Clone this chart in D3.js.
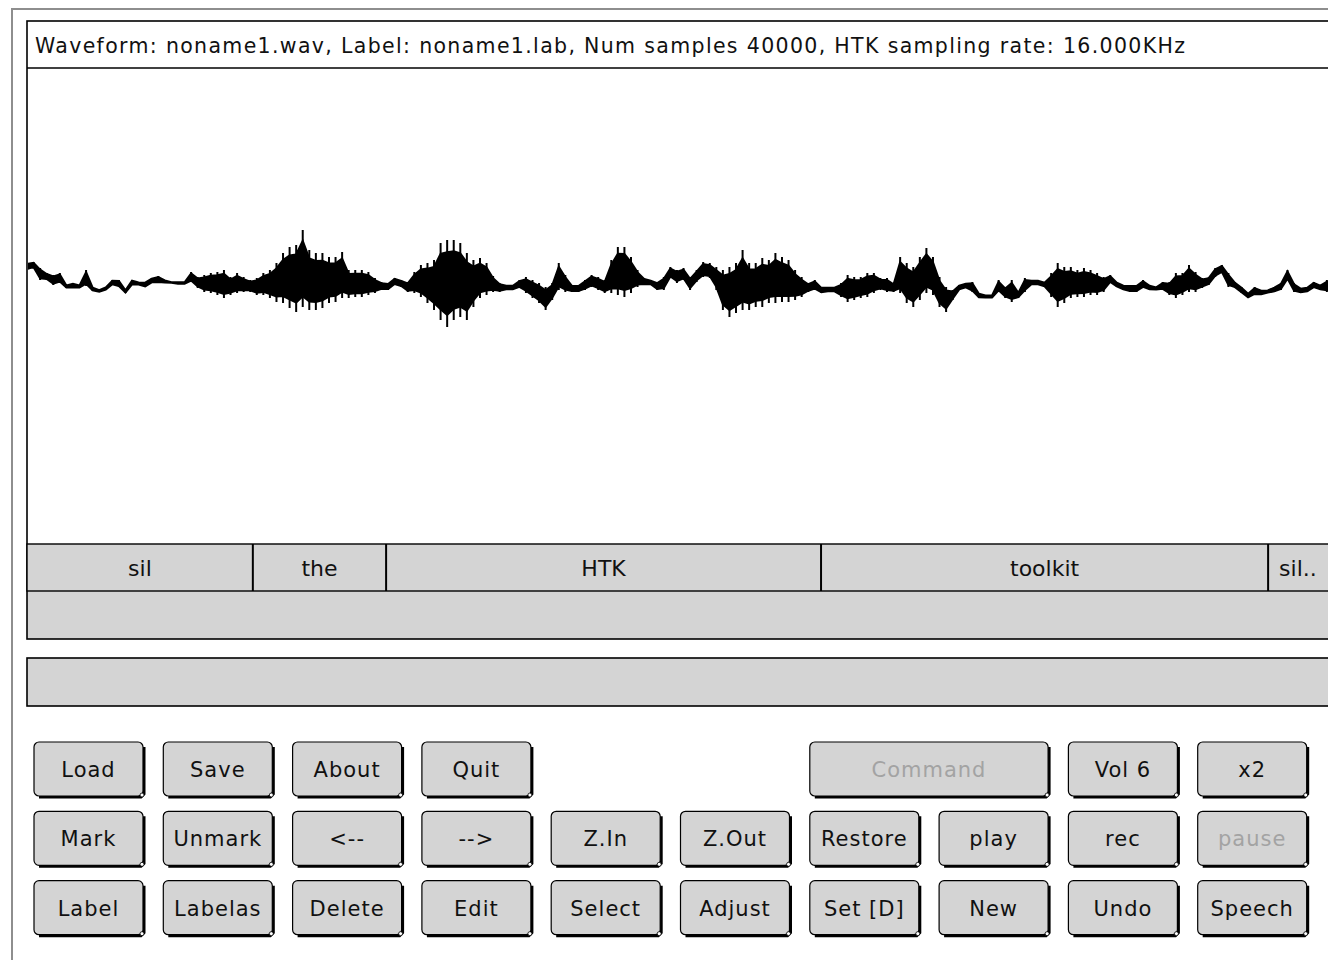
<!DOCTYPE html>
<html>
<head>
<meta charset="utf-8">
<script src="https://cdn.jsdelivr.net/npm/d3@7"></script>
<style>
  body { margin: 0; background: #fff; overflow: hidden; }
  text { font-family: "DejaVu Sans", sans-serif; }
</style>
</head>
<body>
<div id="hslab"></div>
<script>
const titleText = "Waveform: noname1.wav, Label: noname1.lab, Num samples 40000, HTK sampling rate: 16.000KHz";
const numSamples = 40000;
const sampleStep = 200;

// envelope of the waveform, one max/min pair every 200 samples
const waveHi = [
  43,44,38,33,31,33,21,23,21,36, 19,16,19,26,26,16,26,24,24,28,
  30,26,24,24,24,34,29,31,33,34, 36,29,33,29,26,28,33,36,43,53,
  59,61,76,56,53,53,49,49,54,36, 36,36,34,28,24,23,28,26,24,34,
  41,43,46,63,66,66,63,53,46,48, 43,30,23,21,21,26,29,26,23,19,
  23,43,31,21,21,26,31,29,26,46, 59,59,49,36,28,26,24,29,39,36,
  38,29,36,44,43,39,36,39,43,56, 43,43,48,46,53,49,46,36,29,23,
  26,19,19,19,23,31,29,29,33,33, 28,28,23,49,43,39,49,58,49,29,
  19,16,21,23,24,13,11,11,26,19, 26,14,28,26,26,24,33,43,39,39,
  36,38,36,33,29,31,24,21,21,21, 26,21,19,24,24,33,33,41,34,28,
  29,38,41,33,24,19,13,19,16,16, 19,23,36,23,18,19,24,21,26,26
];
const waveLo = [
  36,38,26,26,21,23,18,18,18,20, 15,14,16,21,19,13,21,21,19,23,
  23,23,23,22,22,24,18,14,13,11,  8,11,13,14,14,11,11,8,4,3,
  -2,-6,-1,-4,-4,-2,3,4,8,8,      9,9,11,13,16,16,21,19,14,13,
  9,3,-4,-14,-21,-14,-11,-14,-1,8, 11,14,14,16,16,18,13,8,3,-4,
  6,16,14,14,14,16,19,16,13,13,   11,9,13,19,21,21,16,16,28,23,
  26,16,24,29,28,16,-4,-11,-7,-4, -4,-1,-1,3,3,4,4,6,9,14,
  16,13,14,14,9,4,6,8,9,13,       16,14,14,13,3,-1,6,13,11,-1,
  -6,6,16,18,14,8,8,8,14,8,       4,8,14,21,21,19,9,-1,3,8,
  9,9,11,11,14,23,19,16,14,14,    18,16,16,16,11,8,11,14,14,18,
  21,29,33,19,18,13,8,11,11,13,   14,16,26,14,13,14,18,16,14,16
];

const labelNames  = ["sil", "the", "HTK", "toolkit", "sil.."];
const labelStarts = [0, 6880, 10940, 24190, 37810];
const labelEnds   = [6880, 10940, 24190, 37810, 40000];

const buttonNames = [
  "Load", "Save", "About", "Quit", "Command", "Vol 6", "x2",
  "Mark", "Unmark", "<--", "-->", "Z.In", "Z.Out", "Restore", "play", "rec", "pause",
  "Label", "Labelas", "Delete", "Edit", "Select", "Adjust", "Set [D]", "New", "Undo", "Speech"
];
const buttonRows   = [0,0,0,0,0,0,0, 1,1,1,1,1,1,1,1,1,1, 2,2,2,2,2,2,2,2,2,2];
const buttonCols   = [0,1,2,3,6,8,9, 0,1,2,3,4,5,6,7,8,9, 0,1,2,3,4,5,6,7,8,9];
const buttonSpans  = [1,1,1,1,2,1,1, 1,1,1,1,1,1,1,1,1,1, 1,1,1,1,1,1,1,1,1,1];
const buttonGreyed = ["Command", "pause"];

const W = 1328, H = 960;
const svg = d3.select("#hslab").append("svg")
    .attr("width", W)
    .attr("height", H);

const grey = "#d4d4d4";

// outer window frame
svg.append("path")
    .attr("d", `M12,${H + 5} V9 H${W + 5}`)
    .attr("fill", "none")
    .attr("stroke", "#8e8e8e")
    .attr("stroke-width", 2);

// waveform panel
const panel = { x: 27, y: 21, bottom: 639, titleBottom: 68, waveBottom: 544, labBottom: 591 };

svg.append("rect")
    .attr("x", panel.x)
    .attr("y", panel.labBottom)
    .attr("width", W)
    .attr("height", panel.bottom - panel.labBottom)
    .attr("fill", grey);

svg.append("rect")
    .attr("x", panel.x)
    .attr("y", panel.y)
    .attr("width", W)
    .attr("height", panel.bottom - panel.y)
    .attr("fill", "none")
    .attr("stroke", "#000")
    .attr("stroke-width", 1.6);

svg.append("line")
    .attr("x1", panel.x).attr("x2", W + 5)
    .attr("y1", panel.titleBottom).attr("y2", panel.titleBottom)
    .attr("stroke", "#000")
    .attr("stroke-width", 1.6);

svg.append("text")
    .attr("x", 35)
    .attr("y", 53)
    .attr("font-size", "20.5px")
    .attr("fill", "#111")
    .attr("textLength", 1150)
    .attr("lengthAdjust", "spacing")
    .text(titleText);

// scales
const x = d3.scaleLinear()
    .domain([0, numSamples])
    .range([panel.x, 1340]);

const y = d3.scaleLinear()
    .domain([-238, 238])
    .range([panel.waveBottom, panel.titleBottom]);

const wave = waveHi.map((h, i) => ({ s: i * sampleStep, hi: h, lo: waveLo[i] }));

const clip = svg.append("defs").append("clipPath").attr("id", "waveclip");
clip.append("rect")
    .attr("x", panel.x + 1)
    .attr("y", panel.titleBottom + 1)
    .attr("width", W)
    .attr("height", panel.waveBottom - panel.titleBottom - 2);

const waveG = svg.append("g").attr("clip-path", "url(#waveclip)");

// solid body of the signal
const core = 0.72;
waveG.append("path")
    .datum(wave)
    .attr("fill", "#000")
    .attr("stroke", "#000")
    .attr("stroke-width", 2)
    .attr("d", d3.area()
        .x(d => x(d.s))
        .y0(d => y((d.hi + d.lo) / 2 - core * (d.hi - d.lo) / 2))
        .y1(d => y((d.hi + d.lo) / 2 + core * (d.hi - d.lo) / 2)));

// peak excursions
waveG.selectAll(".peak")
    .data(wave)
    .join("line")
    .attr("class", "peak")
    .attr("x1", d => x(d.s)).attr("x2", d => x(d.s))
    .attr("y1", d => y(d.lo)).attr("y2", d => y(d.hi))
    .attr("stroke", "#000")
    .attr("stroke-width", 2);

// label band
const labels = labelNames.map((n, i) => ({ name: n, start: labelStarts[i], end: labelEnds[i] }));

svg.append("rect")
    .attr("x", panel.x)
    .attr("y", panel.waveBottom)
    .attr("width", W)
    .attr("height", panel.labBottom - panel.waveBottom)
    .attr("fill", grey)
    .attr("stroke", "#000")
    .attr("stroke-width", 1.4);

svg.selectAll(".lab-edge")
    .data(labels.slice(1))
    .join("line")
    .attr("class", "lab-edge")
    .attr("x1", d => x(d.start)).attr("x2", d => x(d.start))
    .attr("y1", panel.waveBottom).attr("y2", panel.labBottom)
    .attr("stroke", "#000")
    .attr("stroke-width", 2);

svg.selectAll(".lab-text")
    .data(labels)
    .join("text")
    .attr("class", "lab-text")
    .attr("x", (d, i) => i === labels.length - 1 ? x(d.start) + 11 : (x(d.start) + x(d.end)) / 2)
    .attr("y", 576)
    .attr("text-anchor", (d, i) => i === labels.length - 1 ? "start" : "middle")
    .attr("font-size", "22px")
    .attr("fill", "#111")
    .text(d => d.name);

// status bar
svg.append("rect")
    .attr("x", panel.x)
    .attr("y", 658)
    .attr("width", W)
    .attr("height", 48)
    .attr("fill", grey)
    .attr("stroke", "#000")
    .attr("stroke-width", 1.6);

// buttons
const colX = d3.scaleLinear().domain([0, 10]).range([34, 34 + 1293]);
const rowY = d3.scaleLinear().domain([0, 3]).range([742, 742 + 208]);
const bw = 109, bh = 54;
const spanW = d => bw + (d.span - 1) * (colX(1) - colX(0));

const buttons = buttonNames.map((n, i) => ({
    name: n, row: buttonRows[i], col: buttonCols[i], span: buttonSpans[i],
    greyed: buttonGreyed.includes(n)
}));

const bg = svg.selectAll(".btn")
    .data(buttons)
    .join("g")
    .attr("class", "btn")
    .attr("transform", d => `translate(${colX(d.col)},${rowY(d.row)})`);

bg.append("path")
    .attr("fill", "none")
    .attr("stroke", "#000")
    .attr("stroke-width", 3)
    .attr("d", d => `M${spanW(d) + 1},5 V${bh - 2} L${spanW(d) - 2},${bh + 1} H5`);

bg.append("rect")
    .attr("width", spanW)
    .attr("height", bh)
    .attr("rx", 5)
    .attr("fill", grey)
    .attr("stroke", "#000")
    .attr("stroke-width", 1.2);

bg.append("circle")
    .attr("cx", d => spanW(d) - 1)
    .attr("cy", bh - 1)
    .attr("r", 2)
    .attr("fill", "#fff")
    .attr("stroke", "#000")
    .attr("stroke-width", 0.8);

bg.append("text")
    .attr("x", d => spanW(d) / 2)
    .attr("y", bh / 2 + 8)
    .attr("text-anchor", "middle")
    .attr("font-size", "21px")
    .attr("letter-spacing", "1px")
    .attr("fill", d => d.greyed ? "#a3a3a3" : "#111")
    .text(d => d.name);
</script>
</body>
</html>
